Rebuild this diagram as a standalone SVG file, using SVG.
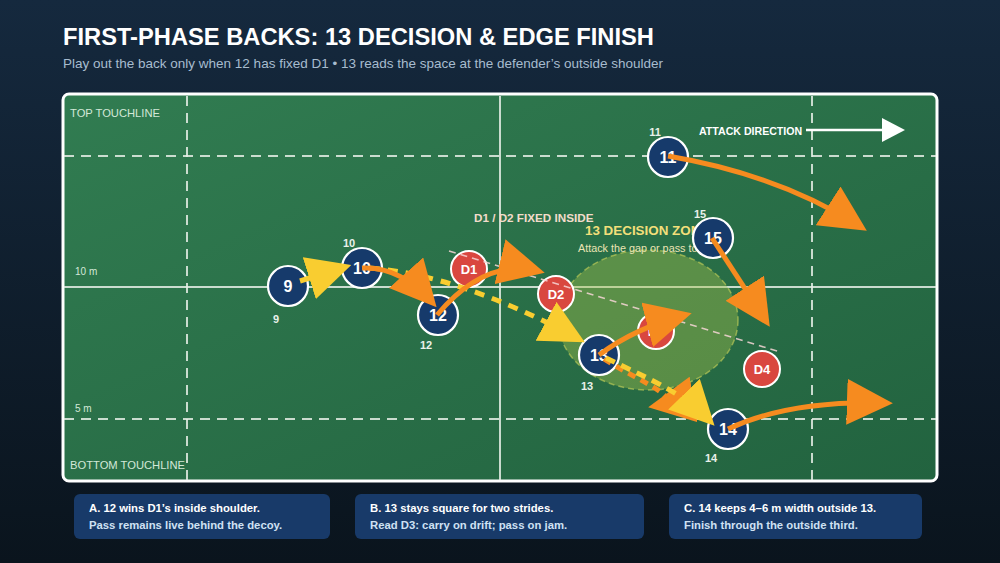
<svg xmlns="http://www.w3.org/2000/svg" width="1000" height="563" viewBox="0 0 1000 563">
<defs>
<linearGradient id="bg" x1="0" y1="0" x2="0" y2="1"><stop offset="0" stop-color="#15293e"/><stop offset="1" stop-color="#0a141d"/></linearGradient>
<linearGradient id="pitch" x1="0" y1="0" x2="1" y2="1"><stop offset="0" stop-color="#317c51"/><stop offset="1" stop-color="#22633f"/></linearGradient>
<marker id="ahO" markerUnits="userSpaceOnUse" markerWidth="46" markerHeight="46" viewBox="0 0 10 10" refX="8.5" refY="5" orient="auto"><path d="M0,0 L10,5 L0,10 z" fill="#f68b1f"/></marker>
<marker id="ahY" markerUnits="userSpaceOnUse" markerWidth="44" markerHeight="44" viewBox="0 0 10 10" refX="8.5" refY="5" orient="auto"><path d="M0,0 L10,5 L0,10 z" fill="#f9cd30"/></marker>
<style>
text{font-family:"Liberation Sans",Arial,sans-serif}
.title{font-size:23.7px;font-weight:bold;fill:#ffffff}
.sub{font-size:13.5px;fill:#a7bccf}
.line{stroke:#e6efe6;stroke-opacity:0.85;stroke-width:2;fill:none}
.dash{stroke-dasharray:10 7}
.lbl{font-size:11.2px;fill:#d3e8d8}
.mk{font-size:10px;fill:#d3e8d8}
.pl circle{fill:#163a6b;stroke:#ffffff;stroke-width:2.2}
.df circle{fill:#d9473f;stroke:#ffffff;stroke-width:2}
.pl text{font-size:16px;font-weight:bold;fill:#ffffff;text-anchor:middle}
.df text{font-size:13px;font-weight:bold;fill:#ffffff;text-anchor:middle}
.pl text.num{font-size:11px;font-weight:bold;fill:#e9f1ea;text-anchor:middle}
.run{fill:none;stroke:#f68b1f;stroke-width:5;marker-end:url(#ahO)}
.pass{fill:none;stroke:#f9cd30;stroke-width:5;marker-end:url(#ahY)}
.card rect{fill:#183a69}
.c1{font-size:11.3px;font-weight:bold;fill:#ffffff}
.c2{font-size:11.3px;font-weight:bold;fill:#cfe1f3}
</style>
</defs>
<rect width="1000" height="563" fill="url(#bg)"/>
<text class="title" x="63" y="45">FIRST-PHASE BACKS: 13 DECISION &amp; EDGE FINISH</text>
<text class="sub" x="63" y="68">Play out the back only when 12 has fixed D1 • 13 reads the space at the defender’s outside shoulder</text>

<g id="pitch">
<rect x="63" y="94" width="874" height="387" rx="6" fill="url(#pitch)" stroke="#ffffff" stroke-width="3"/>
<line class="line dash" x1="64" y1="156" x2="936" y2="156"/>
<line class="line dash" x1="64" y1="419" x2="936" y2="419"/>
<line class="line dash" x1="187" y1="96" x2="187" y2="480"/>
<line class="line dash" x1="812" y1="96" x2="812" y2="480"/>
<line class="line" x1="64" y1="287" x2="936" y2="287" stroke-width="2.5"/>
<line class="line" x1="500" y1="96" x2="500" y2="480"/>
<text class="lbl" x="70" y="117">TOP TOUCHLINE</text>
<text class="lbl" x="70" y="469">BOTTOM TOUCHLINE</text>
<text class="mk" x="75" y="275">10 m</text>
<text class="mk" x="75" y="412">5 m</text>
</g>

<g id="zone">
<ellipse cx="648" cy="320" rx="90" ry="70" fill="#a8c24c" fill-opacity="0.4" stroke="#c9d45a" stroke-opacity="0.6" stroke-width="1.5" stroke-dasharray="6 4"/>
<text x="585" y="235" font-size="13.4" font-weight="bold" fill="#f2df7a">13 DECISION ZONE</text>
<text x="578" y="252" font-size="10.8" fill="#ece4b4">Attack the gap or pass to 14</text>
</g>

<g id="labels">
<text x="474" y="222" font-size="11.7" font-weight="bold" fill="#f3dccb">D1 / D2 FIXED INSIDE</text>
<text x="699" y="135" font-size="10.6" font-weight="bold" fill="#ffffff">ATTACK DIRECTION</text>
<line x1="806" y1="130" x2="884" y2="130" stroke="#ffffff" stroke-width="2.5"/>
<path d="M882,118 L905,130 L882,142 z" fill="#ffffff"/>
</g>

<g id="p9" class="pl"><circle cx="288" cy="286" r="20"/><text x="288" y="292">9</text><text class="num" x="276" y="323">9</text></g>
<g id="p10" class="pl"><circle cx="362" cy="268" r="20"/><text x="362" y="274">10</text><text class="num" x="349" y="247">10</text></g>
<g id="p12" class="pl"><circle cx="438" cy="315" r="20"/><text x="438" y="321">12</text><text class="num" x="426" y="349">12</text></g>
<g id="p11" class="pl"><circle cx="668" cy="157" r="20"/><text x="668" y="163">11</text><text class="num" x="655" y="136">11</text></g>
<g id="p15" class="pl"><circle cx="713" cy="238" r="20"/><text x="713" y="244">15</text><text class="num" x="700" y="218">15</text></g>
<g id="p13" class="pl"><circle cx="599" cy="355" r="20"/><text x="599" y="361">13</text><text class="num" x="587" y="390">13</text></g>
<g id="p14" class="pl"><circle cx="728" cy="429" r="20"/><text x="728" y="435">14</text><text class="num" x="711" y="462">14</text></g>
<g id="d1" class="df"><circle cx="469" cy="269" r="18"/><text x="469" y="274">D1</text></g>
<g id="d2" class="df"><circle cx="556" cy="294" r="18"/><text x="556" y="299">D2</text></g>
<g id="d3" class="df"><circle cx="656" cy="331" r="18"/><text x="656" y="336">D3</text></g>
<g id="d4" class="df"><circle cx="762" cy="369" r="18"/><text x="762" y="374">D4</text></g>

<g id="connectors">
<line x1="449" y1="251" x2="780" y2="352" stroke="#f6d6d6" stroke-opacity="0.85" stroke-width="1.6" stroke-dasharray="7 5"/>
<path class="pass" d="M300,281 L345,267"/>
<path class="pass" d="M370,268 Q460,275 579,339" stroke-dasharray="10 8"/>
<path class="run" d="M362,268 Q400,266 432,302"/>
<path class="run" d="M437,315 Q485,258 538,271"/>
<path class="run" d="M668,156 Q780,175 861,227"/>
<path class="run" d="M712,238 L766,321"/>
<path class="run" d="M599,355 Q635,328 685,315"/>
<path class="run" d="M604,359 C640,382 690,400 655,406" stroke-width="4" stroke-dasharray="8 6"/>
<path class="pass" d="M606,358 C640,375 680,390 710,421" stroke-width="4.5" stroke-dasharray="10 7"/>
<path class="run" d="M728,429 Q790,400 886,403"/>
</g>

<g id="cardA" class="card"><rect x="74" y="494" width="256" height="45" rx="6"/><text class="c1" x="89" y="512">A. 12 wins D1’s inside shoulder.</text><text class="c2" x="89" y="529">Pass remains live behind the decoy.</text></g>
<g id="cardB" class="card"><rect x="355" y="494" width="289" height="45" rx="6"/><text class="c1" x="370" y="512">B. 13 stays square for two strides.</text><text class="c2" x="370" y="529">Read D3: carry on drift; pass on jam.</text></g>
<g id="cardC" class="card"><rect x="669" y="494" width="253" height="45" rx="6"/><text class="c1" x="684" y="512">C. 14 keeps 4–6 m width outside 13.</text><text class="c2" x="684" y="529">Finish through the outside third.</text></g>
</svg>
